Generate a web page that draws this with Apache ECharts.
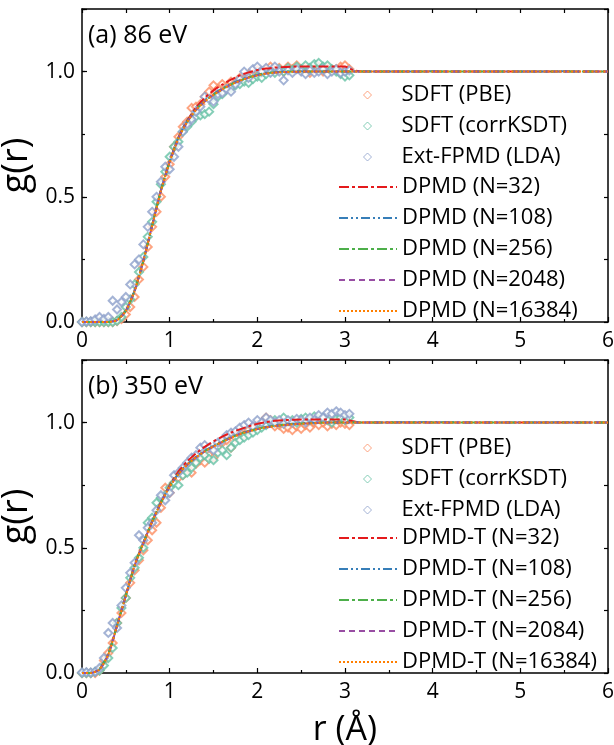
<!DOCTYPE html>
<html>
<head>
<meta charset="utf-8">
<script src="https://cdn.jsdelivr.net/npm/echarts@6/dist/echarts.min.js"></script>
<style>html,body{margin:0;padding:0;background:#fff}#main{width:614px;height:745px}</style>
</head>
<body>
<div id="main"></div>
<script>
// ---------- DATA ----------
const rS = [0,0.05,0.1,0.15,0.2,0.25,0.3,0.35,0.4,0.45,
  0.5,0.55,0.6,0.65,0.7,0.75,0.8,0.85,0.9,0.95,
  1,1.05,1.1,1.15,1.2,1.25,1.3,1.35,1.4,1.45,
  1.5,1.55,1.6,1.65,1.7,1.75,1.8,1.85,1.9,1.95,
  2,2.05,2.1,2.15,2.2,2.25,2.3,2.35,2.4,2.45,
  2.5,2.55,2.6,2.65,2.7,2.75,2.8,2.85,2.9,2.95,
  3,3.05];

// panel (a) 86 eV scatter
const pbeA = [0,0,0,0,0,0,0,0,0.004,0.012,
  0.03,0.06,0.1,0.17,0.22,0.3,0.38,0.44,0.5,0.58,
  0.63,0.7,0.74,0.78,0.8,0.855,0.86,0.87,0.9,0.92,
  0.945,0.93,0.95,0.94,0.96,0.955,0.975,0.97,0.99,0.985,
  1.005,0.995,1.01,1.02,1.005,1.015,1.0,1.02,1.01,1.025,
  1.005,1.015,0.995,1.01,1.02,1.0,1.015,1.005,1.01,1.02,
  1.025,1.01];
const corrA = [0,0,0,0,0,0,0,0,0.005,0.02,
  0.06,0.09,0.15,0.2,0.26,0.34,0.4,0.48,0.55,0.6,
  0.66,0.7,0.72,0.76,0.78,0.8,0.82,0.825,0.83,0.84,
  0.87,0.9,0.91,0.93,0.935,0.945,0.95,0.96,0.955,0.97,
  0.98,0.975,0.99,1.0,0.995,1.01,1.0,1.015,1.005,1.02,
  1.01,1.025,1.015,1.03,1.035,1.02,1.025,1.01,1.0,0.99,
  0.98,0.985];
const extA = [0,0.002,0.003,0.01,0.02,0.012,0.02,0.085,0.05,0.08,
  0.1,0.15,0.23,0.25,0.31,0.38,0.44,0.5,0.56,0.62,
  0.61,0.66,0.7,0.76,0.79,0.81,0.84,0.86,0.9,0.89,
  0.88,0.91,0.915,0.93,0.92,0.95,0.97,1.0,0.975,1.01,
  1.02,1.0,1.015,0.995,1.02,1.0,0.965,1.005,0.995,1.01,
  1.0,0.99,1.005,0.995,1.0,1.01,0.99,1.0,1.01,0.995,
  1.0,1.005];

// panel (b) 350 eV scatter
const pbeB = [0,0,0,0,0.01,0.05,0.08,0.12,0.2,0.24,
  0.3,0.36,0.41,0.45,0.49,0.53,0.57,0.6,0.66,0.74,
  0.72,0.76,0.78,0.79,0.82,0.8,0.835,0.85,0.84,0.87,
  0.86,0.9,0.92,0.93,0.9,0.94,0.96,0.95,0.97,0.98,
  0.99,1.0,1.02,1.01,0.985,0.99,0.975,0.98,0.97,0.985,
  0.975,0.99,0.98,1.0,0.99,1.0,0.985,0.995,0.99,1.0,
  0.995,0.99];
const corrB = [0,0,0,0.005,0.01,0.03,0.06,0.1,0.2,0.26,
  0.3,0.38,0.42,0.46,0.5,0.6,0.62,0.68,0.7,0.71,
  0.74,0.76,0.75,0.79,0.8,0.82,0.84,0.86,0.87,0.855,
  0.85,0.88,0.89,0.87,0.9,0.92,0.93,0.94,0.95,0.96,
  0.97,0.98,0.99,1.0,1.01,1.0,1.02,1.005,1.01,1.0,
  1.015,1.02,1.01,1.025,1.015,1.02,1.01,1.0,1.015,1.02,
  1.01,1.02];
const extB = [0.002,0.003,0.002,0.005,0.02,0.06,0.16,0.2,0.18,0.27,
  0.34,0.4,0.44,0.55,0.53,0.58,0.6,0.65,0.71,0.69,
  0.72,0.79,0.8,0.82,0.84,0.86,0.87,0.9,0.91,0.9,
  0.89,0.92,0.93,0.95,0.96,0.965,0.98,0.99,1.0,0.985,
  1.01,1.0,1.02,1.01,1.0,1.01,0.995,1.01,1.0,1.015,
  1.01,1.0,1.02,1.01,1.03,1.02,1.04,1.035,1.045,1.04,
  1.03,1.035];

// DPMD curves
const rL = [0,0.1,0.2,0.3,0.4,0.5,0.6,0.7,0.8,0.9,
  1.0,1.1,1.2,1.3,1.4,1.5,1.6,1.7,1.8,1.9,
  2.0,2.1,2.2,2.3,2.4,2.5,2.6,2.7,2.8,2.9,
  3.0,3.1,3.2,3.5,4,4.5,5,5.5,6];

const dpA32 = [0,0,0,0,0.008,0.045,0.125,0.245,0.385,0.525,
  0.642,0.738,0.805,0.856,0.895,0.925,0.948,0.968,0.985,0.997,
  1.006,1.012,1.016,1.018,1.02,1.02,1.02,1.02,1.02,1.02,
  1.02,1.005,1.0,1.0,1.0,1.0,1.0,1.0,1.0];
const dpA108 = [0,0,0,0,0.008,0.046,0.126,0.246,0.386,0.526,
  0.641,0.736,0.801,0.849,0.884,0.91,0.932,0.951,0.966,0.978,
  0.987,0.994,0.998,1.0,1.0,1.001,1.0,1.0,1.001,1.0,
  1.0,1.0,1.001,1.0,1.001,1.0,1.0,1.001,1.0];
const dpA256 = [0,0,0,0,0.008,0.045,0.125,0.245,0.385,0.525,
  0.64,0.735,0.8,0.848,0.882,0.908,0.93,0.949,0.964,0.977,
  0.986,0.993,0.997,0.999,1.0,1.0,1.0,1.0,1.0,1.0,
  1.0,1.0,1.0,1.0,1.0,1.0,1.0,1.0,1.0];
const dpA2048 = [0,0,0,0,0.007,0.044,0.124,0.244,0.384,0.524,
  0.639,0.734,0.799,0.847,0.881,0.907,0.929,0.948,0.963,0.976,
  0.985,0.992,0.996,0.998,0.999,1.0,1.0,1.0,1.0,1.0,
  1.0,1.0,1.0,1.0,1.0,1.0,1.0,1.0,1.0];
const dpA16384 = [0,0,0,0,0.007,0.044,0.124,0.244,0.384,0.524,
  0.639,0.734,0.799,0.847,0.881,0.907,0.929,0.948,0.963,0.976,
  0.985,0.992,0.996,0.998,0.999,1.0,1.0,1.0,1.0,1.0,
  1.0,1.0,1.0,1.0,1.0,1.0,1.0,1.0,1.0];

const dpB32 = [0,0,0.015,0.075,0.19,0.31,0.43,0.52,0.605,0.682,
  0.75,0.805,0.845,0.877,0.903,0.925,0.944,0.96,0.973,0.985,
  0.995,1.002,1.007,1.01,1.011,1.012,1.012,1.012,1.012,1.012,
  1.012,1.005,1.0,1.0,1.0,1.0,1.0,1.0,1.0];
const dpB108 = [0,0,0.015,0.076,0.191,0.311,0.431,0.521,0.606,0.681,
  0.746,0.796,0.834,0.863,0.887,0.907,0.925,0.941,0.956,0.967,
  0.976,0.983,0.988,0.992,0.995,0.997,0.999,1.0,1.001,1.0,
  1.0,1.001,1.0,1.001,1.002,1.0,1.0,1.001,1.0];
const dpB256 = [0,0,0.015,0.075,0.19,0.31,0.43,0.52,0.605,0.68,
  0.745,0.795,0.833,0.862,0.886,0.906,0.924,0.94,0.955,0.966,
  0.975,0.982,0.987,0.991,0.994,0.996,0.998,0.999,1.0,1.0,
  1.0,1.0,1.0,1.0,1.0,1.0,1.0,1.0,1.0];
const dpB2084 = [0,0,0.014,0.074,0.189,0.309,0.429,0.519,0.604,0.679,
  0.744,0.794,0.832,0.861,0.885,0.905,0.923,0.939,0.954,0.965,
  0.974,0.981,0.986,0.99,0.993,0.995,0.997,0.999,1.0,1.0,
  1.0,1.0,1.0,1.0,1.0,1.0,1.0,1.0,1.0];
const dpB16384 = [0,0,0.014,0.074,0.189,0.309,0.429,0.519,0.604,0.679,
  0.744,0.794,0.832,0.861,0.885,0.905,0.923,0.939,0.954,0.965,
  0.974,0.981,0.986,0.99,0.993,0.995,0.997,0.999,1.0,1.0,
  1.0,1.0,1.0,1.0,1.0,1.0,1.0,1.0,1.0];

const scatterNames = ['SDFT (PBE)', 'SDFT (corrKSDT)', 'Ext-FPMD (LDA)'];
const lineNamesA = ['DPMD (N=32)', 'DPMD (N=108)', 'DPMD (N=256)', 'DPMD (N=2048)', 'DPMD (N=16384)'];
const lineNamesB = ['DPMD-T (N=32)', 'DPMD-T (N=108)', 'DPMD-T (N=256)', 'DPMD-T (N=2084)', 'DPMD-T (N=16384)'];
const xTicks = [0, 1, 2, 3, 4, 5, 6];
const yTicks = [0, 0.5, 1.0];

// ---------- STYLE ----------
const FONT = 'Open Sans';
const scatterColors = ['#FC8D62', '#66C2A5', '#8DA0CB'];
const lineColors = ['#E41A1C', '#377EB8', '#4DAF4A', '#984EA3', '#FF7F00'];
const lineDashes = [[10,3,3,3], [9,3,2,3,2,3], [10,3,3,3], [6,4], [2,2]];

const pair = (xs, ys) => xs.map((x, i) => [x, ys[i]]);

const grids = [
  { left: 82, right: 6, top: 9, height: 313, outerBoundsMode: 'none', containLabel: false },
  { left: 82, right: 6, top: 360, height: 313, outerBoundsMode: 'none', containLabel: false }
];

function xAxes(gi, withName) {
  return [
    { gridIndex: gi, type: 'value', position: 'bottom', min: 0, max: 6, interval: 1,
      axisLine: { show: true, onZero: false, lineStyle: { color: '#000', width: 1.5 } },
      axisTick: { show: true, inside: true, length: 5, lineStyle: { color: '#000', width: 1.2 } },
      minorTick: { show: true, splitNumber: 2, length: 3, lineStyle: { color: '#000', width: 1.2 } },
      axisLabel: { show: true, color: '#000', fontSize: 21, fontFamily: FONT, margin: 9,
        formatter: v => xTicks.indexOf(v) >= 0 ? String(v) : '' },
      splitLine: { show: false },
      name: withName ? 'r (Å)' : '', nameLocation: 'middle', nameGap: 40,
      nameTextStyle: { color: '#000', fontSize: 34, fontFamily: FONT } },
    { gridIndex: gi, type: 'value', position: 'top', min: 0, max: 6, interval: 0.5,
      axisLine: { show: true, onZero: false, lineStyle: { color: '#000', width: 1.5 } },
      axisTick: { show: true, inside: true, length: 4, lineStyle: { color: '#000', width: 1.2 } },
      axisLabel: { show: false }, splitLine: { show: false } }
  ];
}
function yAxes(gi) {
  return [
    { gridIndex: gi, type: 'value', position: 'left', min: 0, max: 1.25, interval: 0.5,
      axisLine: { show: true, onZero: false, lineStyle: { color: '#000', width: 1.5 } },
      axisTick: { show: true, inside: true, length: 5, lineStyle: { color: '#000', width: 1.2 } },
      axisLabel: { show: true, color: '#000', fontSize: 21, fontFamily: FONT, margin: 7,
        formatter: v => yTicks.indexOf(v) >= 0 ? v.toFixed(1) : '' },
      splitLine: { show: false },
      name: 'g(r)', nameLocation: 'middle', nameGap: 39,
      nameTextStyle: { color: '#000', fontSize: 36, fontFamily: FONT } },
    { gridIndex: gi, type: 'value', position: 'left', min: 0, max: 1.25, interval: 0.25,
      axisLine: { show: false },
      axisTick: { show: true, inside: true, length: 3, lineStyle: { color: '#000', width: 1.2 } },
      axisLabel: { show: false }, splitLine: { show: false } },
    { gridIndex: gi, type: 'value', position: 'right', min: 0, max: 1.25, interval: 0.25,
      axisLine: { show: true, onZero: false, lineStyle: { color: '#000', width: 1.5 } },
      axisTick: { show: true, inside: true, length: 4, lineStyle: { color: '#000', width: 1.2 } },
      axisLabel: { show: false }, splitLine: { show: false } }
  ];
}

function scatterSeries(xi, yi, arrays) {
  return arrays.map((ys, k) => ({
    name: scatterNames[k], type: 'scatter', xAxisIndex: xi, yAxisIndex: yi,
    symbol: 'emptyDiamond', symbolSize: 8,
    itemStyle: { color: scatterColors[k], borderColor: scatterColors[k], borderWidth: 1 },
    data: pair(rS, ys), z: 2, silent: true
  }));
}
function lineSeries(xi, yi, names, arrays) {
  return arrays.map((ys, k) => ({
    name: names[k], type: 'line', xAxisIndex: xi, yAxisIndex: yi,
    showSymbol: false, symbol: 'none', smooth: 0.2,
    itemStyle: { color: lineColors[k] },
    lineStyle: { color: lineColors[k], width: 2, type: lineDashes[k] },
    data: pair(rL, ys), z: 3 + k, silent: true
  }));
}

const textBase = { color: '#000', fontSize: 22, fontFamily: FONT };
const scatterLegend = (top) => ({
  orient: 'vertical', left: 363, top: top, padding: 0, itemGap: 9,
  itemWidth: 8, itemHeight: 8, selectedMode: false,
  textStyle: Object.assign({}, textBase, { padding: [0, 0, 0, 25] }),
  data: scatterNames.map((n, k) => ({
    name: n, icon: 'diamond',
    itemStyle: { color: '#fff', borderColor: scatterColors[k], borderWidth: 1 }
  }))
});
const lineLegend = (top, names) => ({
  orient: 'vertical', left: 338, top: top, padding: 0, itemGap: 9,
  itemWidth: 58, itemHeight: 14, selectedMode: false,
  itemStyle: { opacity: 0 },
  textStyle: textBase,
  data: names
});

const option = {
  backgroundColor: '#fff',
  animation: false,
  title: [
    { text: '(a) 86 eV', left: 83, top: 18, textStyle: { color: '#000', fontSize: 25, fontWeight: 'normal', fontFamily: FONT } },
    { text: '(b) 350 eV', left: 83, top: 369, textStyle: { color: '#000', fontSize: 25, fontWeight: 'normal', fontFamily: FONT } }
  ],
  grid: grids,
  xAxis: [...xAxes(0, false), ...xAxes(1, true)],
  yAxis: [...yAxes(0), ...yAxes(1)],
  legend: [
    scatterLegend(84),
    lineLegend(176, lineNamesA),
    scatterLegend(437),
    lineLegend(527, lineNamesB)
  ],
  series: [
    ...scatterSeries(0, 0, [pbeA, corrA, extA]),
    ...lineSeries(0, 0, lineNamesA, [dpA32, dpA108, dpA256, dpA2048, dpA16384]),
    ...scatterSeries(2, 3, [pbeB, corrB, extB]),
    ...lineSeries(2, 3, lineNamesB, [dpB32, dpB108, dpB256, dpB2084, dpB16384])
  ]
};

const chart = echarts.init(document.getElementById('main'), null, { renderer: 'canvas' });
chart.setOption(option);
</script>
</body>
</html>
